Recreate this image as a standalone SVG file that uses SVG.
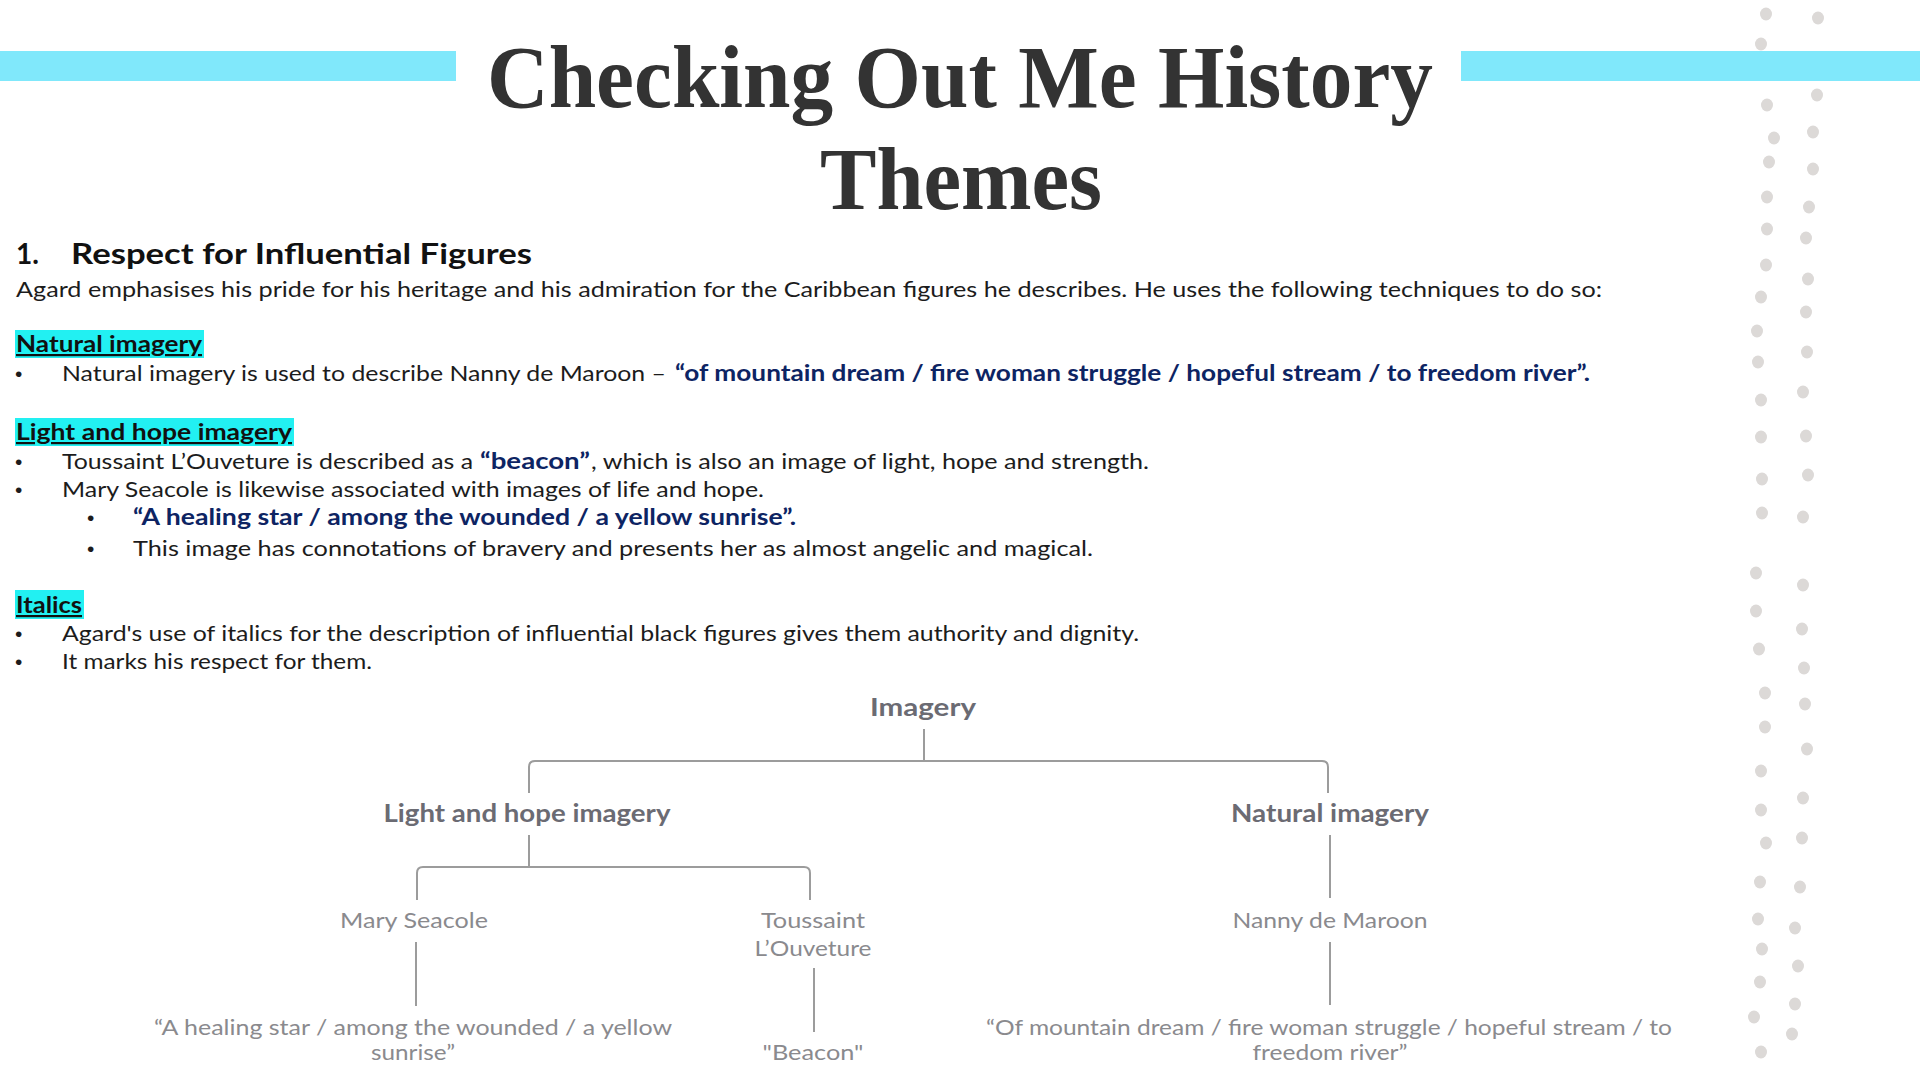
<svg xmlns="http://www.w3.org/2000/svg" width="1920" height="1080" viewBox="0 0 1920 1080">
<style>
.title{font-family:"Liberation Serif","Times New Roman",serif;font-weight:bold;font-size:88px;fill:#333333}
.body{font-family:Lato,"Liberation Sans",sans-serif;font-size:22px;fill:#1c1c1c}
.bul{font-family:"Liberation Sans",Arial,sans-serif;font-size:21px;fill:#1c1c1c}
.quote{font-family:Lato,"Liberation Sans",sans-serif;font-size:22px;font-weight:bold;fill:#0d2463}
.head{font-family:Lato,"Liberation Sans",sans-serif;font-size:28px;font-weight:bold;fill:#111111}
.hl{font-family:Lato,"Liberation Sans",sans-serif;font-size:22px;font-weight:bold;fill:#111111;text-decoration:underline}
.hlbg{fill:#22F0F2}
.bar{fill:#80E8FB}
.dot{fill:#DCD9D7}
.nh{font-family:Lato,"Liberation Sans",sans-serif;font-size:25px;font-weight:bold;fill:#6b6b73;text-anchor:middle}
.nl{font-family:Lato,"Liberation Sans",sans-serif;font-size:22px;fill:#8a8a8e;text-anchor:middle}
.conn{fill:none;stroke:#9c9c9c;stroke-width:2}
</style>
<rect width="1920" height="1080" fill="#ffffff"/>
<g id="dots">
<ellipse class="dot" cx="1766" cy="14" rx="6" ry="6.5"/><ellipse class="dot" cx="1761" cy="44" rx="6" ry="6.5"/>
<ellipse class="dot" cx="1767" cy="105" rx="6" ry="6.5"/><ellipse class="dot" cx="1774" cy="138" rx="6" ry="6.5"/>
<ellipse class="dot" cx="1769" cy="162" rx="6" ry="6.5"/><ellipse class="dot" cx="1767" cy="197" rx="6" ry="6.5"/>
<ellipse class="dot" cx="1767" cy="229" rx="6" ry="6.5"/><ellipse class="dot" cx="1766" cy="265" rx="6" ry="6.5"/>
<ellipse class="dot" cx="1761" cy="297" rx="6" ry="6.5"/><ellipse class="dot" cx="1757" cy="331" rx="6" ry="6.5"/>
<ellipse class="dot" cx="1758" cy="362" rx="6" ry="6.5"/><ellipse class="dot" cx="1761" cy="400" rx="6" ry="6.5"/>
<ellipse class="dot" cx="1761" cy="437" rx="6" ry="6.5"/><ellipse class="dot" cx="1762" cy="479" rx="6" ry="6.5"/>
<ellipse class="dot" cx="1762" cy="513" rx="6" ry="6.5"/><ellipse class="dot" cx="1756" cy="573" rx="6" ry="6.5"/>
<ellipse class="dot" cx="1756" cy="611" rx="6" ry="6.5"/><ellipse class="dot" cx="1759" cy="649" rx="6" ry="6.5"/>
<ellipse class="dot" cx="1765" cy="693" rx="6" ry="6.5"/><ellipse class="dot" cx="1765" cy="727" rx="6" ry="6.5"/>
<ellipse class="dot" cx="1761" cy="771" rx="6" ry="6.5"/><ellipse class="dot" cx="1761" cy="810" rx="6" ry="6.5"/>
<ellipse class="dot" cx="1766" cy="843" rx="6" ry="6.5"/><ellipse class="dot" cx="1760" cy="882" rx="6" ry="6.5"/>
<ellipse class="dot" cx="1758" cy="919" rx="6" ry="6.5"/><ellipse class="dot" cx="1762" cy="949" rx="6" ry="6.5"/>
<ellipse class="dot" cx="1760" cy="982" rx="6" ry="6.5"/><ellipse class="dot" cx="1754" cy="1017" rx="6" ry="6.5"/>
<ellipse class="dot" cx="1761" cy="1052" rx="6" ry="6.5"/>
<ellipse class="dot" cx="1818" cy="18" rx="6" ry="6.5"/><ellipse class="dot" cx="1818" cy="58" rx="6" ry="6.5"/>
<ellipse class="dot" cx="1817" cy="95" rx="6" ry="6.5"/><ellipse class="dot" cx="1813" cy="132" rx="6" ry="6.5"/>
<ellipse class="dot" cx="1813" cy="169" rx="6" ry="6.5"/><ellipse class="dot" cx="1809" cy="207" rx="6" ry="6.5"/>
<ellipse class="dot" cx="1806" cy="238" rx="6" ry="6.5"/><ellipse class="dot" cx="1808" cy="279" rx="6" ry="6.5"/>
<ellipse class="dot" cx="1806" cy="312" rx="6" ry="6.5"/><ellipse class="dot" cx="1807" cy="352" rx="6" ry="6.5"/>
<ellipse class="dot" cx="1803" cy="392" rx="6" ry="6.5"/><ellipse class="dot" cx="1806" cy="436" rx="6" ry="6.5"/>
<ellipse class="dot" cx="1808" cy="475" rx="6" ry="6.5"/><ellipse class="dot" cx="1803" cy="517" rx="6" ry="6.5"/>
<ellipse class="dot" cx="1803" cy="585" rx="6" ry="6.5"/><ellipse class="dot" cx="1802" cy="629" rx="6" ry="6.5"/>
<ellipse class="dot" cx="1804" cy="668" rx="6" ry="6.5"/><ellipse class="dot" cx="1805" cy="704" rx="6" ry="6.5"/>
<ellipse class="dot" cx="1807" cy="749" rx="6" ry="6.5"/><ellipse class="dot" cx="1803" cy="798" rx="6" ry="6.5"/>
<ellipse class="dot" cx="1802" cy="838" rx="6" ry="6.5"/><ellipse class="dot" cx="1800" cy="887" rx="6" ry="6.5"/>
<ellipse class="dot" cx="1795" cy="928" rx="6" ry="6.5"/><ellipse class="dot" cx="1798" cy="966" rx="6" ry="6.5"/>
<ellipse class="dot" cx="1795" cy="1004" rx="6" ry="6.5"/><ellipse class="dot" cx="1792" cy="1034" rx="6" ry="6.5"/>
</g>
<g id="bars">
<rect class="bar" x="0" y="51" width="456" height="30"/>
<rect class="bar" x="1461" y="51" width="459" height="30"/>
</g>
<g id="title">
<text class="title" x="487" y="107" textLength="946" lengthAdjust="spacingAndGlyphs">Checking Out Me History</text>
<text class="title" x="820" y="209" textLength="282" lengthAdjust="spacingAndGlyphs">Themes</text>
</g>
<g id="section-text">
<text class="head" x="16" y="264">1.</text>
<text class="head" x="71" y="264" textLength="461" lengthAdjust="spacingAndGlyphs">Respect for Influential Figures</text>
<text class="body" x="16" y="297" textLength="1586" lengthAdjust="spacingAndGlyphs">Agard emphasises his pride for his heritage and his admiration for the Caribbean figures he describes. He uses the following techniques to do so:</text>

<rect class="hlbg" x="15" y="330" width="189" height="28"/>
<text class="hl" x="16" y="352" textLength="186" lengthAdjust="spacingAndGlyphs">Natural imagery</text>
<text class="bul" x="15" y="381">•</text>
<text class="body" x="62" y="381" textLength="604" lengthAdjust="spacingAndGlyphs">Natural imagery is used to describe Nanny de Maroon –</text>
<text class="quote" x="675" y="381" textLength="915" lengthAdjust="spacingAndGlyphs">“of mountain dream / fire woman struggle / hopeful stream / to freedom river”.</text>

<rect class="hlbg" x="15" y="418" width="279" height="28"/>
<text class="hl" x="16" y="440" textLength="276" lengthAdjust="spacingAndGlyphs">Light and hope imagery</text>
<text class="bul" x="15" y="469">•</text>
<text class="body" x="62" y="469" textLength="411" lengthAdjust="spacingAndGlyphs">Toussaint L’Ouveture is described as a</text>
<text class="quote" x="480" y="469" textLength="110" lengthAdjust="spacingAndGlyphs">“beacon”</text>
<text class="body" x="591" y="469" textLength="558" lengthAdjust="spacingAndGlyphs">, which is also an image of light, hope and strength.</text>
<text class="bul" x="15" y="497">•</text>
<text class="body" x="62" y="497" textLength="702" lengthAdjust="spacingAndGlyphs">Mary Seacole is likewise associated with images of life and hope.</text>
<text class="bul" x="87" y="525">•</text>
<text class="quote" x="133" y="525" textLength="663" lengthAdjust="spacingAndGlyphs">“A healing star / among the wounded / a yellow sunrise”.</text>
<text class="bul" x="87" y="556">•</text>
<text class="body" x="133" y="556" textLength="960" lengthAdjust="spacingAndGlyphs">This image has connotations of bravery and presents her as almost angelic and magical.</text>

<rect class="hlbg" x="15" y="590" width="69" height="29"/>
<text class="hl" x="16" y="613" textLength="66" lengthAdjust="spacingAndGlyphs">Italics</text>
<text class="bul" x="15" y="641">•</text>
<text class="body" x="62" y="641" textLength="1077" lengthAdjust="spacingAndGlyphs">Agard's use of italics for the description of influential black figures gives them authority and dignity.</text>
<text class="bul" x="15" y="669">•</text>
<text class="body" x="62" y="669" textLength="310" lengthAdjust="spacingAndGlyphs">It marks his respect for them.</text>
</g>
<g id="connectors">
<path class="conn" d="M924 729 V761"/>
<path class="conn" d="M529 793 V767 Q529 761 535 761 H1322 Q1328 761 1328 767 V793"/>
<path class="conn" d="M529 835 V867"/>
<path class="conn" d="M417 900 V873 Q417 867 423 867 H804 Q810 867 810 873 V900"/>
<path class="conn" d="M416 942 V1006"/>
<path class="conn" d="M814 968 V1032"/>
<path class="conn" d="M1330 835 V898"/>
<path class="conn" d="M1330 942 V1005"/>
</g>
<g id="node-imagery"><text class="nh" x="923" y="716" textLength="106" lengthAdjust="spacingAndGlyphs">Imagery</text></g>
<g id="node-light"><text class="nh" x="527" y="822" textLength="287" lengthAdjust="spacingAndGlyphs">Light and hope imagery</text></g>
<g id="node-natural"><text class="nh" x="1330" y="822" textLength="198" lengthAdjust="spacingAndGlyphs">Natural imagery</text></g>
<g id="node-mary"><text class="nl" x="414" y="928" textLength="148" lengthAdjust="spacingAndGlyphs">Mary Seacole</text></g>
<g id="node-toussaint">
<text class="nl" x="813" y="928" textLength="104" lengthAdjust="spacingAndGlyphs">Toussaint</text>
<text class="nl" x="813" y="956" textLength="117" lengthAdjust="spacingAndGlyphs">L’Ouveture</text>
</g>
<g id="node-nanny"><text class="nl" x="1330" y="928" textLength="195" lengthAdjust="spacingAndGlyphs">Nanny de Maroon</text></g>
<g id="node-healing">
<text class="nl" x="413" y="1035" textLength="518" lengthAdjust="spacingAndGlyphs">“A healing star / among the wounded / a yellow</text>
<text class="nl" x="413" y="1060" textLength="84" lengthAdjust="spacingAndGlyphs">sunrise”</text>
</g>
<g id="node-beacon"><text class="nl" x="813" y="1060" textLength="101" lengthAdjust="spacingAndGlyphs">"Beacon"</text></g>
<g id="node-mountain">
<text class="nl" x="1329" y="1035" textLength="686" lengthAdjust="spacingAndGlyphs">“Of mountain dream / fire woman struggle / hopeful stream / to</text>
<text class="nl" x="1330" y="1060" textLength="155" lengthAdjust="spacingAndGlyphs">freedom river”</text>
</g>
</svg>
